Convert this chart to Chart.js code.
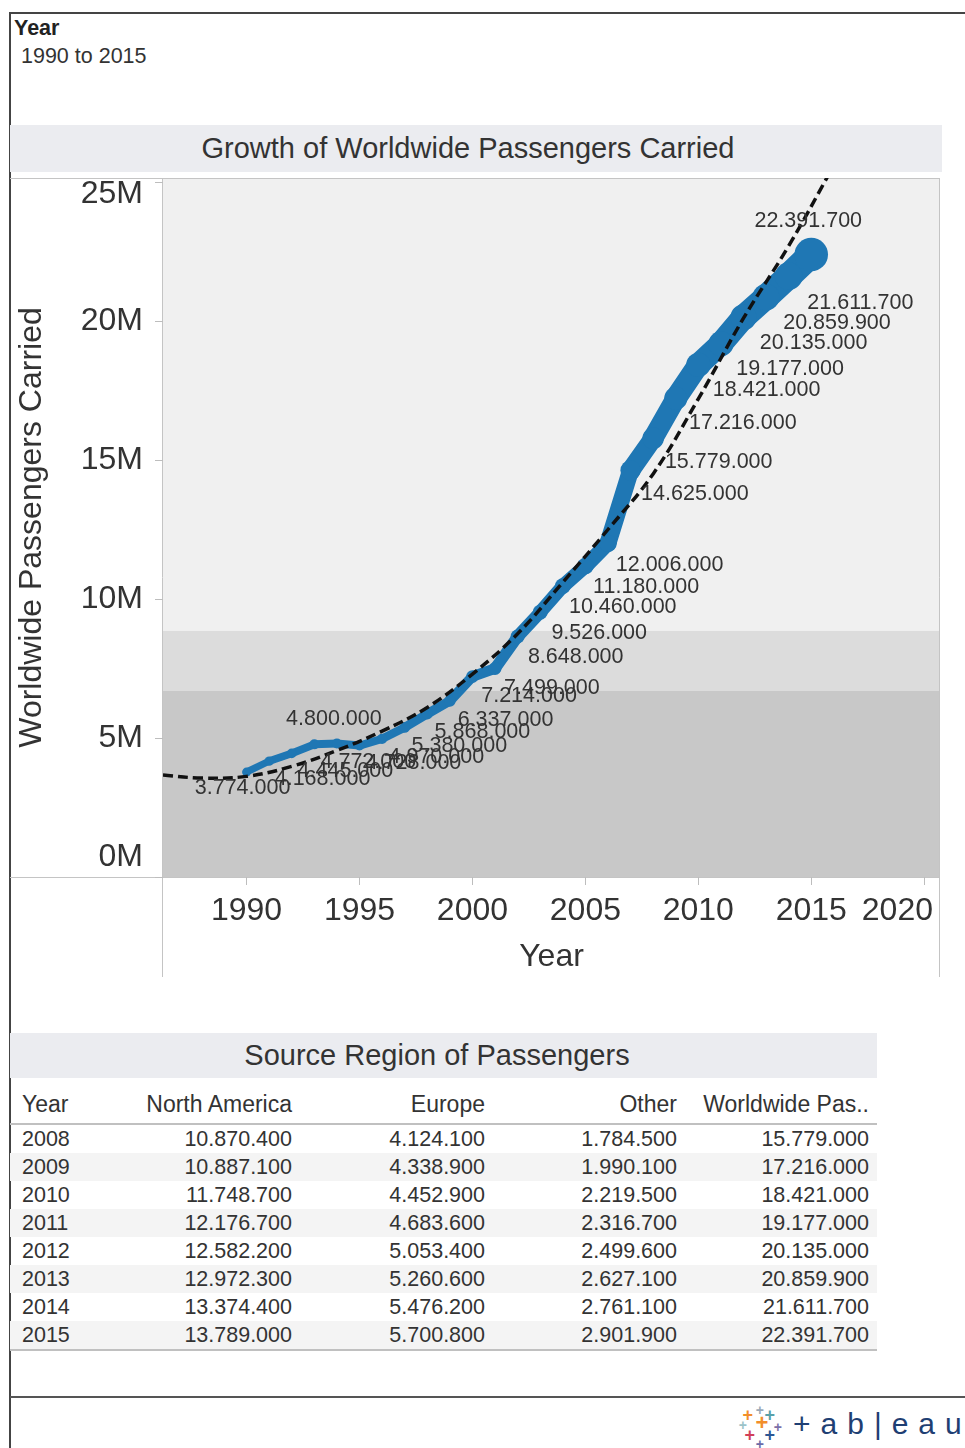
<!DOCTYPE html>
<html>
<head>
<meta charset="utf-8">
<script src="https://cdn.jsdelivr.net/npm/chart.js@4.4.1/dist/chart.umd.min.js"></script>
<style>
  body { margin: 0; background: #fff; font-family: "Liberation Sans", Arial, sans-serif; color: #333; }
  #page { position: relative; width: 965px; height: 1448px; overflow: hidden; }
  .abs { position: absolute; }
  .frame { position: absolute; background: #444; }
  .bar { position: absolute; background: #ebecf0; text-align: center; font-size: 29px; color: #333; box-sizing: border-box; }
  .cell { position: absolute; font-size: 21.5px; line-height: 28px; white-space: nowrap; }
  .head { font-size: 23px; }
  .logo { position: absolute; font-weight: bold; font-size: 20px; line-height: 20px; }
</style>
</head>
<body>
<div id="page">
  <div class="frame" style="left:10px; top:12px; width:955px; height:2px;"></div>
  <div class="frame" style="left:9px; top:12px; width:2px; height:1436px;"></div>
  <div class="frame" style="left:10px; top:1396px; width:955px; height:2px; background:#555;"></div>

  <div class="abs" style="left:14px; top:16px; font-size:21.5px; font-weight:bold; color:#222;">Year</div>
  <div class="abs" style="left:21px; top:44px; font-size:21.5px; color:#333;">1990 to 2015</div>

  <div class="bar" style="left:10px; top:125px; width:932px; height:47px; line-height:47px; padding-right:16px;">Growth of Worldwide Passengers Carried</div>

  <canvas id="growthCanvas" class="abs" style="left:10px; top:178px;" width="930" height="799"></canvas>

  <div class="bar" style="left:10px; top:1033px; width:867px; height:45px; line-height:45px; padding-right:13px;">Source Region of Passengers</div>
  <div id="table"></div>

  <div id="logo"></div>
</div>

<script>
// Worldwide passengers carried, 1990 - 2015
const years = [1990, 1991, 1992, 1993, 1994, 1995, 1996, 1997, 1998, 1999, 2000, 2001, 2002,
               2003, 2004, 2005, 2006, 2007, 2008, 2009, 2010, 2011, 2012, 2013, 2014, 2015];
const passengers = [3774000, 4168000, 4445000, 4772000, 4800000, 4728000, 4970000, 5380000, 5868000,
                    6337000, 7214000, 7499000, 8648000, 9526000, 10460000, 11180000, 12006000,
                    14625000, 15779000, 17216000, 18421000, 19177000, 20135000, 20859900, 21611700, 22391700];

// trend line
const trendYears = [1986.3, 1988, 1990, 1992, 1994, 1996, 1998, 2000, 2002, 2004, 2006, 2008, 2010, 2012, 2014, 2016];
const trendValues = [3670000, 3560000, 3620000, 3980000, 4550000, 5250000, 6100000, 7300000, 8750000,
                     10600000, 12500000, 14500000, 17200000, 20100000, 22700000, 25600000];

// shaded reference bands (upper edges of the dark and light band)
const referenceBands = [6690000, 8850000];

const xTicks = [1990, 1995, 2000, 2005, 2010, 2015, 2020];
const yTicks = [0, 5000000, 10000000, 15000000, 20000000, 25000000];

// labels placed differently from the rest
const labelAboveYears = [1994, 2015];
const labelBelowYears = [1990];

// Source region table
const tableYears = [2008, 2009, 2010, 2011, 2012, 2013, 2014, 2015];
const northAmerica = [10870400, 10887100, 11748700, 12176700, 12582200, 12972300, 13374400, 13789000];
const europe = [4124100, 4338900, 4452900, 4683600, 5053400, 5260600, 5476200, 5700800];
const other = [1784500, 1990100, 2219500, 2316700, 2499600, 2627100, 2761100, 2901900];
const worldwide = [15779000, 17216000, 18421000, 19177000, 20135000, 20859900, 21611700, 22391700];
const tableHeaders = ['Year', 'North America', 'Europe', 'Other', 'Worldwide Pas..'];

const FONT = '"Liberation Sans", Arial, sans-serif';
const BLUE = '#1f77b4';
const TEXT = '#333';
const AXIS_FONT = 32;

const fmt = n => String(Math.round(n)).replace(/\B(?=(\d{3})+(?!\d))/g, '.');
const lineWidthFor = v => 3 + 1.05 * v / 1e6;

// plot background, reference bands, pane borders and the clamped tick labels
const panePlugin = {
  id: 'pane',
  beforeDraw(chart) {
    const { ctx, chartArea: a, scales: { y } } = chart;
    ctx.save();
    ctx.fillStyle = '#f0f0f0';
    ctx.fillRect(a.left, a.top, a.width, a.height);
    const yHigh = y.getPixelForValue(referenceBands[1]);
    const yMid = y.getPixelForValue(referenceBands[0]);
    ctx.fillStyle = '#dcdcdc';
    ctx.fillRect(a.left, yHigh, a.width, yMid - yHigh);
    ctx.fillStyle = '#c8c8c8';
    ctx.fillRect(a.left, yMid, a.width, a.bottom - yMid);

    ctx.strokeStyle = '#c4c4c4';
    ctx.lineWidth = 1;
    ctx.beginPath();
    ctx.moveTo(0, 0.5); ctx.lineTo(a.right, 0.5);
    ctx.moveTo(0, a.bottom + 0.5); ctx.lineTo(a.right, a.bottom + 0.5);
    ctx.moveTo(a.left - 0.5, 0); ctx.lineTo(a.left - 0.5, chart.height);
    ctx.moveTo(a.right - 0.5, 0); ctx.lineTo(a.right - 0.5, chart.height);
    ctx.stroke();
    ctx.restore();
  },
  afterDraw(chart) {
    const { ctx, chartArea: a, scales: { x, y } } = chart;
    ctx.save();
    ctx.font = `${AXIS_FONT}px ${FONT}`;
    ctx.fillStyle = TEXT;
    ctx.textBaseline = 'middle';
    ctx.textAlign = 'right';
    yTicks.forEach(v => {
      let py = y.getPixelForValue(v);
      py = Math.min(Math.max(py, a.top + 16), a.bottom - 20);
      ctx.fillText((v / 1e6) + 'M', a.left - 20, py);
    });
    ctx.textAlign = 'center';
    xTicks.forEach(v => {
      const label = String(v);
      const half = ctx.measureText(label).width / 2;
      let px = x.getPixelForValue(v);
      px = Math.min(px, a.right - 7 - half);
      ctx.fillText(label, px, a.bottom + 34);
    });
    ctx.restore();
  },
};

const dataLabelPlugin = {
  id: 'dataLabels',
  afterDatasetsDraw(chart) {
    const { ctx } = chart;
    const meta = chart.getDatasetMeta(0);
    ctx.save();
    ctx.font = `21.5px ${FONT}`;
    ctx.fillStyle = TEXT;
    ctx.textAlign = 'center';
    ctx.textBaseline = 'middle';
    meta.data.forEach((pt, i) => {
      const v = passengers[i];
      const w = lineWidthFor(v);
      let dx = 46 + w, dy = 14 + w / 2;
      if (labelAboveYears.includes(years[i])) { dx = -3; dy = -(w / 2 + 20); }
      else if (labelBelowYears.includes(years[i])) { dx = -4; dy = 16; }
      ctx.fillText(fmt(v), pt.x + dx, pt.y + dy);
    });
    ctx.restore();
  },
};

new Chart(document.getElementById('growthCanvas').getContext('2d'), {
  type: 'line',
  data: {
    datasets: [
      {
        label: 'Worldwide Passengers Carried',
        data: years.map((yr, i) => ({ x: yr, y: passengers[i] })),
        borderColor: BLUE,
        backgroundColor: BLUE,
        borderWidth: 7,
        borderCapStyle: 'round',
        borderJoinStyle: 'round',
        tension: 0,
        order: 1,
        segment: {
          borderWidth: c => (lineWidthFor(c.p0.parsed.y) + lineWidthFor(c.p1.parsed.y)) / 2,
        },
        pointRadius: c => {
          const w = lineWidthFor(c.raw.y);
          return c.dataIndex === years.length - 1 ? w / 2 + 3.5 : w / 2 + 1;
        },
        pointBorderWidth: 0,
        pointBackgroundColor: BLUE,
      },
      {
        label: 'Trend',
        data: trendYears.map((yr, i) => ({ x: yr, y: trendValues[i] })),
        borderColor: '#111',
        borderWidth: 3.5,
        borderDash: [10, 5],
        pointRadius: 0,
        tension: 0.4,
        order: 0,
      },
    ],
  },
  options: {
    responsive: false,
    animation: false,
    layout: { padding: 0, autoPadding: false },
    plugins: { legend: { display: false }, tooltip: { enabled: false } },
    scales: {
      x: {
        type: 'linear',
        min: 1986.3,
        max: 2020.7,
        afterBuildTicks: s => { s.ticks = xTicks.map(v => ({ value: v })); },
        afterFit: s => { s.height = 100; s.paddingLeft = 0; s.paddingRight = 0; },
        grid: { drawOnChartArea: false, drawTicks: true, tickLength: 8, color: '#bdbdbd' },
        border: { display: false },
        ticks: { display: false },
        title: { display: true, text: 'Year', font: { family: FONT, size: AXIS_FONT }, color: TEXT, padding: { top: 0, bottom: 1 } },
      },
      y: {
        min: 0,
        max: 25144000,
        afterBuildTicks: s => { s.ticks = yTicks.map(v => ({ value: v })); },
        afterFit: s => { s.width = 153; s.paddingTop = 0; s.paddingBottom = 0; },
        grid: { drawOnChartArea: false, drawTicks: true, tickLength: 8, color: '#bdbdbd' },
        border: { display: false },
        ticks: { display: false },
        title: { display: true, text: 'Worldwide Passengers Carried', font: { family: FONT, size: AXIS_FONT }, color: TEXT, padding: { top: 3, bottom: 0 } },
      },
    },
  },
  plugins: [panePlugin, dataLabelPlugin],
});

// source region table
(function buildTable() {
  const host = document.getElementById('table');
  const colRight = [null, 292, 485, 677, 869];
  const put = (text, col, top, cls) => {
    const d = document.createElement('div');
    d.className = 'cell' + (cls ? ' ' + cls : '');
    d.textContent = text;
    if (col === 0) d.style.left = '22px';
    else d.style.right = (965 - colRight[col]) + 'px';
    d.style.top = top + 'px';
    host.appendChild(d);
  };
  const block = (top, height, color) => {
    const d = document.createElement('div');
    d.className = 'abs';
    Object.assign(d.style, { left: '10px', top: top + 'px', width: '867px', height: height + 'px', background: color });
    host.appendChild(d);
  };
  tableHeaders.forEach((h, c) => put(h, c, 1090, 'head'));
  tableYears.forEach((yr, i) => {
    const top = 1125 + 28 * i;
    if (i % 2 === 1) block(top, 28, '#f4f4f4');
    put(String(yr), 0, top);
    put(fmt(northAmerica[i]), 1, top);
    put(fmt(europe[i]), 2, top);
    put(fmt(other[i]), 3, top);
    put(fmt(worldwide[i]), 4, top);
  });
  block(1123, 2, '#c0c0c0');
  block(1349, 2, '#c0c0c0');
})();

// tableau logo
(function buildLogo() {
  const host = document.getElementById('logo');
  const crosses = [
    [760, 1408, '#9aa9b8', 14], [748, 1415, '#f28e2b', 18], [770, 1415, '#59a1a9', 18],
    [743, 1423, '#9bc3c9', 14], [762, 1425, '#f28e2b', 22], [778, 1425, '#7b6fa8', 14],
    [750, 1435, '#d13f5a', 18], [770, 1435, '#2c5694', 18], [760, 1442, '#6b6ba8', 14],
  ];
  crosses.forEach(([x, y, col, size]) => {
    const d = document.createElement('div');
    d.className = 'logo';
    d.textContent = '+';
    Object.assign(d.style, { left: (x - size * 0.3) + 'px', top: (y - size * 0.55) + 'px', color: col, fontSize: size + 'px' });
    host.appendChild(d);
  });
  const t = document.createElement('div');
  t.className = 'abs';
  t.textContent = '+ab|eau';
  Object.assign(t.style, { left: '793px', top: '1407px', fontSize: '30px', letterSpacing: '10px', color: '#1f3f73', fontFamily: FONT });
  host.appendChild(t);
})();
</script>
</body>
</html>
